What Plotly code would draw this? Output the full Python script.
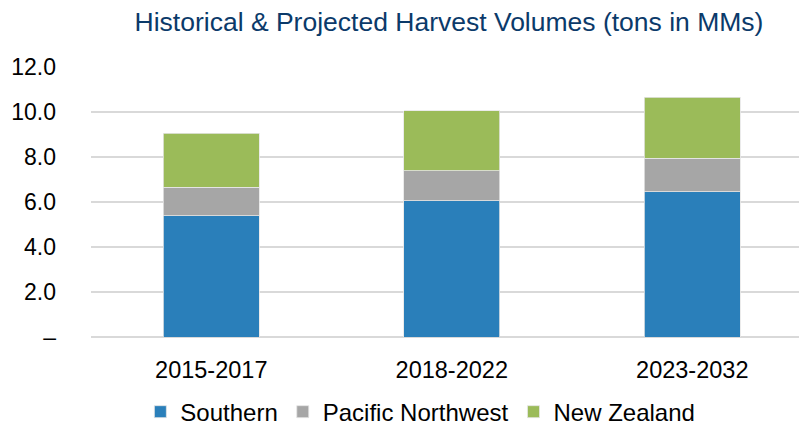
import plotly.graph_objects as go

categories = ["2015-2017", "2018-2022", "2023-2032"]
southern = [5.40, 6.05, 6.45]
pacific_nw = [1.25, 1.33, 1.50]
new_zealand = [2.40, 2.68, 2.70]
y_tickvals = [0, 2, 4, 6, 8, 10, 12]
y_ticktext = ["–", "2.0", "4.0", "6.0", "8.0", "10.0", "12.0"]

FONT = "Liberation Sans, Arial, sans-serif"
fig = go.Figure()
for name, vals, col in [("Southern", southern, "#2A7FBA"),
                        ("Pacific Northwest", pacific_nw, "#A6A6A6"),
                        ("New Zealand", new_zealand, "#9BBB59")]:
    fig.add_trace(go.Bar(x=categories, y=vals, name=name,
                         marker=dict(color=col, line=dict(color="#E6E6E6", width=0.8))))

fig.update_layout(
    barmode="stack", bargap=0.6,
    width=799, height=417,
    margin=dict(l=83, r=0, t=59, b=88, autoexpand=False),
    paper_bgcolor="white", plot_bgcolor="white",
    font=dict(family=FONT, size=23, color="#000000"),
    title=dict(text="Historical & Projected Harvest Volumes (tons in MMs)",
               x=0.5, xref="paper", y=0.966, yref="container", yanchor="middle",
               font=dict(family=FONT, size=26.5, color="#0B3A6A")),
    legend=dict(orientation="h", x=0.46, xanchor="center", xref="paper",
                y=-0.278, yanchor="middle", font=dict(size=24),
                itemwidth=30, traceorder="normal"),
    showlegend=True,
)
fig.update_xaxes(range=[-0.5, 2.477], showgrid=False, showline=False,
                 ticks="", ticklabelstandoff=16, tickfont=dict(size=23.5))
fig.update_yaxes(range=[0, 12], tickvals=y_tickvals, ticktext=y_ticktext,
                 showgrid=True, gridcolor="#D9D9D9", gridwidth=1.5,
                 zeroline=True, zerolinecolor="#D9D9D9", zerolinewidth=1.5,
                 showline=False, ticks="", ticklabelstandoff=34,
                 tickfont=dict(size=23))
fig.write_html("out.html")
